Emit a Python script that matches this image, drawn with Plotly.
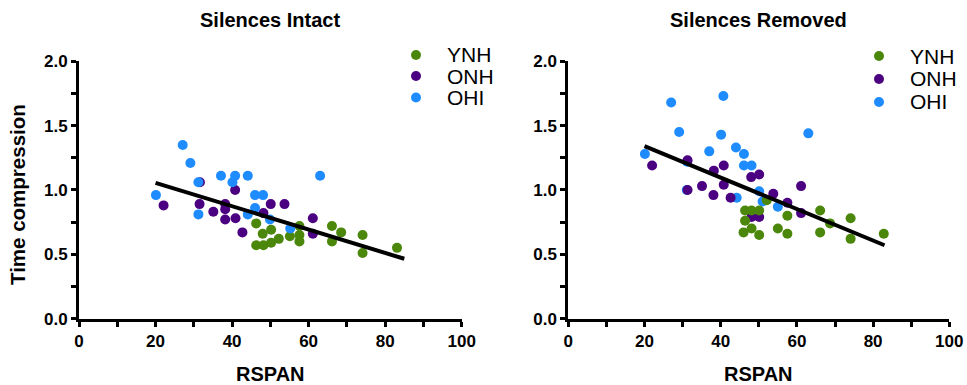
import plotly.graph_objects as go

# ---------------- data ----------------
groups = ["YNH", "ONH", "OHI"]
group_colors = ["#4A870A", "#4B0082", "#1E8CFF"]

# Silences Intact
intact_ynh_x = [46.3, 48.0, 50.2, 52.2, 46.3, 48.2, 50.2, 55.1, 57.6, 57.6, 57.6, 66.1, 68.5, 66.1, 74.1, 74.1, 83.1]
intact_ynh_y = [0.74, 0.66, 0.69, 0.62, 0.57, 0.57, 0.59, 0.64, 0.72, 0.65, 0.60, 0.72, 0.67, 0.60, 0.65, 0.51, 0.55]
intact_onh_x = [31.6, 40.8, 22.1, 31.5, 35.1, 38.2, 38.2, 38.2, 40.9, 42.7, 50.1, 53.7, 48.2, 61.1, 61.1]
intact_onh_y = [1.06, 1.00, 0.88, 0.89, 0.83, 0.89, 0.85, 0.77, 0.78, 0.67, 0.89, 0.89, 0.82, 0.78, 0.66]
intact_ohi_x = [27.1, 29.1, 31.2, 20.1, 31.2, 37.1, 40.8, 40.1, 44.1, 46.0, 48.1, 46.0, 44.1, 49.9, 55.2, 63.0]
intact_ohi_y = [1.35, 1.21, 1.06, 0.96, 0.81, 1.11, 1.11, 1.06, 1.11, 0.96, 0.96, 0.86, 0.81, 0.77, 0.70, 1.11]
intact_fit_x = [20, 85]
intact_fit_y = [1.055, 0.465]

# Silences Removed
removed_ynh_x = [46.4, 48.1, 50.1, 46.4, 46.0, 48.1, 50.1, 52.1, 57.5, 55.0, 57.5, 66.1, 68.7, 66.1, 74.1, 74.1, 82.8]
removed_ynh_y = [0.84, 0.84, 0.84, 0.76, 0.67, 0.70, 0.65, 0.92, 0.80, 0.70, 0.66, 0.84, 0.74, 0.67, 0.78, 0.62, 0.66]
removed_onh_x = [22.0, 31.3, 31.3, 35.1, 38.1, 38.2, 40.8, 40.8, 42.6, 48.0, 50.1, 53.8, 57.5, 61.1, 61.1, 48.1, 50.1]
removed_onh_y = [1.19, 1.23, 1.00, 1.03, 0.96, 1.15, 1.19, 1.04, 0.94, 1.10, 1.12, 0.97, 0.90, 0.82, 1.03, 0.79, 0.79]
removed_ohi_x = [20.1, 27.0, 40.7, 29.1, 40.1, 37.0, 44.0, 46.1, 46.1, 48.1, 31.1, 44.2, 31.2, 63.0, 50.1, 51.0, 55.0]
removed_ohi_y = [1.28, 1.68, 1.73, 1.45, 1.43, 1.30, 1.33, 1.28, 1.19, 1.19, 1.00, 0.94, 1.22, 1.44, 0.99, 0.91, 0.87]
removed_fit_x = [20, 83]
removed_fit_y = [1.34, 0.57]

panel_titles = ["Silences Intact", "Silences Removed"]
x_title = "RSPAN"
y_title = "Time compression"
x_tickvals = [0, 20, 40, 60, 80, 100]
y_tickvals = [0.0, 0.5, 1.0, 1.5, 2.0]
y_ticktext = ["0.0", "0.5", "1.0", "1.5", "2.0"]

# ---------------- figure ----------------
W, H = 967, 385
FONT = "Liberation Sans, Arial, sans-serif"
fig = go.Figure()

col = dict(zip(groups, group_colors))

def add_pts(x, y, g, xa, ya):
    fig.add_trace(go.Scatter(x=x, y=y, mode="markers", name=g, showlegend=False,
                             marker=dict(size=10, color=col[g], line=dict(width=0)),
                             xaxis=xa, yaxis=ya))

# left panel (draw order: ONH, YNH, OHI)
add_pts(intact_onh_x, intact_onh_y, "ONH", "x", "y")
add_pts(intact_ynh_x, intact_ynh_y, "YNH", "x", "y")
add_pts(intact_ohi_x, intact_ohi_y, "OHI", "x", "y")
fig.add_trace(go.Scatter(x=intact_fit_x, y=intact_fit_y, mode="lines", showlegend=False,
                         line=dict(color="black", width=4), xaxis="x", yaxis="y"))
# right panel (draw order: OHI, ONH, YNH)
add_pts(removed_ohi_x, removed_ohi_y, "OHI", "x2", "y2")
add_pts(removed_onh_x, removed_onh_y, "ONH", "x2", "y2")
add_pts(removed_ynh_x, removed_ynh_y, "YNH", "x2", "y2")
fig.add_trace(go.Scatter(x=removed_fit_x, y=removed_fit_y, mode="lines", showlegend=False,
                         line=dict(color="black", width=4), xaxis="x2", yaxis="y2"))

xd1 = [79 / W, 461.7 / W]
xd2 = [568.3 / W, 949.3 / W]
yd = [(H - 318.6) / H, (H - 61.3) / H]

tickfont = dict(family=FONT, size=17, color="black", weight="bold")

def xax(domain, anchor):
    return dict(domain=domain, anchor=anchor, range=[0, 100], tickvals=x_tickvals,
                showline=True, linewidth=3, linecolor="black", ticks="outside",
                ticklen=5, tickwidth=3, tickcolor="black", showgrid=False, zeroline=False,
                tickfont=tickfont, automargin=False,
                minor=dict(dtick=10, tick0=0, ticks="outside", ticklen=5, tickwidth=3,
                           tickcolor="black", showgrid=False))

def yax(anchor):
    return dict(domain=yd, anchor=anchor, range=[0, 2], tickvals=y_tickvals, ticktext=y_ticktext,
                showline=True, linewidth=3, linecolor="black", ticks="outside",
                ticklen=5, tickwidth=3, tickcolor="black", showgrid=False, zeroline=False,
                tickfont=tickfont, automargin=False,
                minor=dict(dtick=0.25, tick0=0, ticks="outside", ticklen=5, tickwidth=3,
                           tickcolor="black", showgrid=False))

annotations = []
shapes = []
for i, (dom, t) in enumerate([(xd1, panel_titles[0]), (xd2, panel_titles[1])]):
    cx = (dom[0] + dom[1]) / 2
    annotations.append(dict(text=t, x=cx, y=1 - 20 / H, xref="paper", yref="paper",
                            showarrow=False, xanchor="center", yanchor="middle",
                            font=dict(family=FONT, size=20, color="black", weight="bold")))
    annotations.append(dict(text=x_title, x=cx, y=1 - 374 / H, xref="paper", yref="paper",
                            showarrow=False, xanchor="center", yanchor="middle",
                            font=dict(family=FONT, size=20, color="black", weight="bold")))

annotations.append(dict(text=y_title, x=18 / W, y=1 - 195 / H, xref="paper", yref="paper",
                        showarrow=False, xanchor="center", yanchor="middle", textangle=-90,
                        font=dict(family=FONT, size=20.5, color="black", weight="bold")))

# legends (one per panel)
legend_specs = [(416, 445, [55, 76, 97.5]), (879, 908, [56, 79, 102])]
for mx, tx, ys in legend_specs:
    for g, yy in zip(groups, ys):
        shapes.append(dict(type="circle", xref="paper", yref="paper",
                           xsizemode="pixel", ysizemode="pixel",
                           xanchor=mx / W, yanchor=1 - yy / H,
                           x0=-5, x1=5, y0=-5, y1=5,
                           fillcolor=col[g], line=dict(width=0)))
        annotations.append(dict(text=g, x=tx / W, y=1 - yy / H, xref="paper", yref="paper",
                                showarrow=False, xanchor="left", yanchor="middle",
                                font=dict(family=FONT, size=21, color="black")))

fig.update_layout(
    width=W, height=H,
    margin=dict(l=0, r=0, t=0, b=0, pad=0, autoexpand=False),
    paper_bgcolor="white", plot_bgcolor="white",
    showlegend=False,
    xaxis=xax(xd1, "y"), yaxis=yax("x"),
    xaxis2=xax(xd2, "y2"), yaxis2=yax("x2"),
    annotations=annotations, shapes=shapes,
)

fig.write_html("out.html")
